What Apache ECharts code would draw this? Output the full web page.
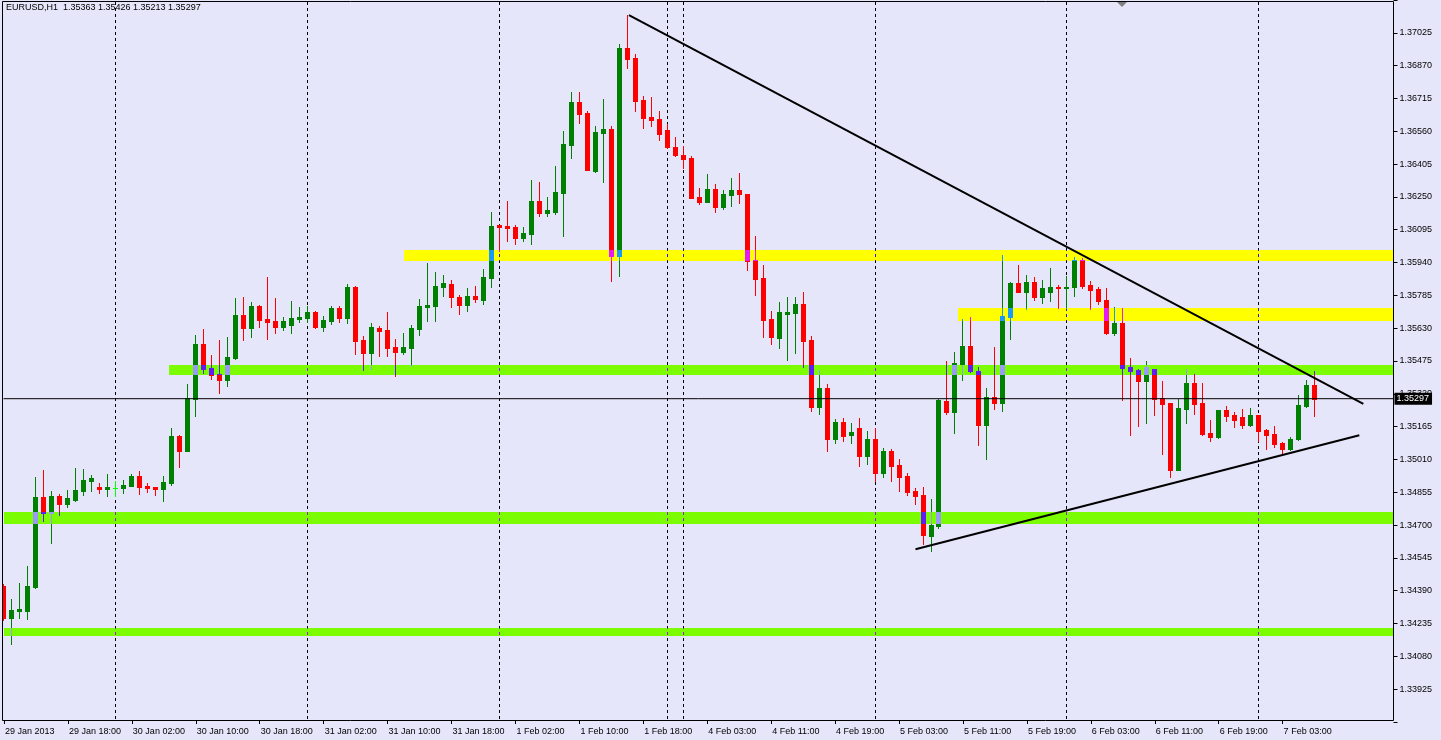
<!DOCTYPE html>
<html><head><meta charset="utf-8">
<script src="https://cdn.jsdelivr.net/npm/echarts@6/dist/echarts.min.js"></script>
<style>html,body{margin:0;padding:0;background:#E6E6FA;}#c{width:1441px;height:740px;}</style>
</head><body><div id="c"></div>
<script>
// EURUSD H1 candles (MT4 order O/H/L/C), bar 0 = 29 Jan 2013 10:00
const opens = [1.34412,1.34262,1.34293,1.34293,1.34408,1.34832,1.34758,1.34837,1.34801,1.34818,
1.34862,1.34908,1.34879,1.34870,1.34875,1.34875,1.34884,1.34931,1.34884,1.34879,
1.34870,1.34898,1.35120,1.35050,1.35295,1.35555,1.35442,1.35413,1.35385,1.35489,
1.35692,1.35631,1.35735,1.35673,1.35664,1.35637,1.35645,1.35673,1.35678,1.35706,
1.35636,1.35664,1.35725,1.35678,1.35825,1.35574,1.35513,1.35631,1.35621,1.35541,
1.35517,1.35536,1.35626,1.35730,1.35735,1.35825,1.35839,1.35777,1.35740,1.35782,
1.35763,1.35867,1.36118,1.36113,1.36108,1.36056,1.36075,1.36231,1.36174,1.36179,
1.36269,1.36496,1.36699,1.36647,1.36373,1.36552,1.36571,1.35971,1.36954,1.36907,
1.36708,1.36628,1.36619,1.36567,1.36486,1.36448,1.36434,1.36250,1.36226,1.36288,
1.36203,1.36259,1.36283,1.36264,1.35952,1.35867,1.35673,1.35584,1.35697,1.35702,
1.35744,1.35574,1.35258,1.35347,1.35106,1.35187,1.35125,1.35158,1.35026,1.35106,
1.34946,1.35050,1.34983,1.34931,1.34861,1.34842,1.34648,1.34695,1.35286,1.35234,
1.35461,1.35546,1.35428,1.35172,1.35305,1.35276,1.35683,1.35844,1.35801,1.35848,
1.35777,1.35801,1.35825,1.35820,1.35825,1.35952,1.35834,1.35815,1.35763,1.35607,
1.35655,1.35447,1.35432,1.35380,1.35437,1.35300,1.35276,1.34960,1.35248,1.35371,
1.35276,1.35135,1.35116,1.35243,1.35220,1.35210,1.35172,1.35220,1.35149,1.35130,
1.35087,1.35059,1.35106,1.35262,1.35363];
const highs = [1.34421,1.34350,1.34427,1.34506,1.34927,1.34960,1.34861,1.34846,1.34865,1.34969,
1.34965,1.34936,1.34898,1.34941,1.34908,1.34913,1.34941,1.34955,1.34898,1.34879,
1.34931,1.35158,1.35125,1.35366,1.35598,1.35626,1.35503,1.35574,1.35588,1.35773,
1.35777,1.35754,1.35740,1.35872,1.35773,1.35683,1.35758,1.35730,1.35735,1.35711,
1.35688,1.35735,1.35735,1.35839,1.35829,1.35593,1.35655,1.35640,1.35706,1.35579,
1.35607,1.35645,1.35768,1.35938,1.35896,1.35881,1.35858,1.35787,1.35820,1.35829,
1.35910,1.36179,1.36118,1.36231,1.36118,1.36108,1.36330,1.36321,1.36250,1.36396,
1.36562,1.36746,1.36746,1.36656,1.36586,1.36713,1.36586,1.36973,1.37110,1.36926,
1.36727,1.36723,1.36656,1.36595,1.36534,1.36491,1.36444,1.36293,1.36359,1.36311,
1.36283,1.36340,1.36363,1.36266,1.36066,1.35929,1.35711,1.35754,1.35777,1.35777,
1.35801,1.35593,1.35432,1.35366,1.35201,1.35206,1.35182,1.35206,1.35144,1.35158,
1.35064,1.35059,1.35012,1.34946,1.34875,1.34879,1.34823,1.35295,1.35475,1.35517,
1.35673,1.35683,1.35447,1.35347,1.35541,1.35976,1.35846,1.35929,1.35881,1.35872,
1.35858,1.35914,1.35834,1.35877,1.35966,1.35962,1.35853,1.35825,1.35820,1.35730,
1.35725,1.35489,1.35437,1.35475,1.35437,1.35380,1.35278,1.35295,1.35437,1.35413,
1.35371,1.35196,1.35245,1.35262,1.35234,1.35248,1.35253,1.35222,1.35154,1.35168,
1.35092,1.35116,1.35314,1.35385,1.35426];
const lows = [1.34251,1.34137,1.34262,1.34256,1.34405,1.34720,1.34616,1.34747,1.34786,1.34813,
1.34842,1.34861,1.34851,1.34837,1.34837,1.34851,1.34884,1.34846,1.34856,1.34842,
1.34813,1.34889,1.34974,1.35048,1.35215,1.35418,1.35390,1.35324,1.35357,1.35484,
1.35574,1.35588,1.35636,1.35579,1.35607,1.35621,1.35607,1.35659,1.35659,1.35631,
1.35617,1.35650,1.35659,1.35655,1.35508,1.35432,1.35437,1.35499,1.35499,1.35404,
1.35508,1.35451,1.35598,1.35664,1.35664,1.35782,1.35730,1.35697,1.35711,1.35754,
1.35744,1.35825,1.35995,1.36042,1.36028,1.36042,1.36028,1.36160,1.36160,1.36170,
1.36066,1.36434,1.36600,1.36375,1.36368,1.36321,1.35853,1.35877,1.36860,1.36656,
1.36576,1.36586,1.36519,1.36482,1.36444,1.36387,1.36243,1.36217,1.36224,1.36179,
1.36193,1.36207,1.36222,1.35905,1.35787,1.35588,1.35555,1.35536,1.35480,1.35513,
1.35447,1.35239,1.35224,1.35050,1.35087,1.35097,1.35087,1.34979,1.34988,1.34908,
1.34927,1.34908,1.34861,1.34842,1.34801,1.34610,1.34577,1.34686,1.35224,1.35135,
1.35385,1.35423,1.35078,1.35012,1.35248,1.35239,1.35579,1.35799,1.35721,1.35763,
1.35749,1.35758,1.35725,1.35725,1.35782,1.35820,1.35721,1.35744,1.35603,1.35598,
1.35291,1.35125,1.35168,1.35182,1.35220,1.35035,1.34927,1.34958,1.35182,1.35224,
1.35125,1.35097,1.35111,1.35191,1.35163,1.35158,1.35168,1.35097,1.35059,1.35068,
1.35031,1.35057,1.35102,1.35257,1.35213];
const closes = [1.34262,1.34298,1.34303,1.34412,1.34832,1.34758,1.34837,1.34801,1.34827,1.34865,
1.34913,1.34922,1.34870,1.34879,1.34875,1.34889,1.34931,1.34879,1.34875,1.34870,
1.34903,1.35120,1.35050,1.35300,1.35555,1.35437,1.35409,1.35385,1.35494,1.35692,
1.35631,1.35735,1.35669,1.35659,1.35636,1.35664,1.35678,1.35683,1.35706,1.35636,
1.35669,1.35725,1.35678,1.35825,1.35569,1.35513,1.35636,1.35617,1.35536,1.35517,
1.35541,1.35631,1.35735,1.35740,1.35829,1.35844,1.35777,1.35740,1.35782,1.35768,
1.35872,1.36113,1.36108,1.36103,1.36056,1.36080,1.36231,1.36174,1.36189,1.36274,
1.36500,1.36699,1.36642,1.36378,1.36557,1.36571,1.35971,1.36954,1.36902,1.36704,
1.36623,1.36614,1.36548,1.36486,1.36448,1.36430,1.36245,1.36226,1.36288,1.36203,
1.36264,1.36283,1.36264,1.35948,1.35862,1.35669,1.35588,1.35706,1.35706,1.35744,
1.35569,1.35258,1.35347,1.35106,1.35187,1.35120,1.35139,1.35026,1.35106,1.34946,
1.35050,1.34979,1.34927,1.34856,1.34837,1.34653,1.34700,1.35291,1.35234,1.35465,
1.35546,1.35428,1.35172,1.35305,1.35276,1.35688,1.35844,1.35801,1.35848,1.35777,
1.35820,1.35825,1.35820,1.35825,1.35952,1.35829,1.35810,1.35758,1.35607,1.35655,
1.35442,1.35428,1.35380,1.35447,1.35295,1.35272,1.34960,1.35253,1.35371,1.35272,
1.35130,1.35116,1.35243,1.35215,1.35196,1.35172,1.35220,1.35144,1.35125,1.35083,
1.35059,1.35106,1.35267,1.35363,1.35297];

const tickLabels = ['29 Jan 2013','29 Jan 18:00','30 Jan 02:00','30 Jan 10:00','30 Jan 18:00',
'31 Jan 02:00','31 Jan 10:00','31 Jan 18:00','1 Feb 02:00','1 Feb 10:00','1 Feb 18:00',
'4 Feb 03:00','4 Feb 11:00','4 Feb 19:00','5 Feb 03:00','5 Feb 11:00','5 Feb 19:00',
'6 Feb 03:00','6 Feb 11:00','6 Feb 19:00','7 Feb 03:00'];
const barsPerTick = 8;
const slotCount = 175;               // bars + empty shift area on the right
const daySeparators = [14, 38, 62, 83, 85, 109, 133, 157];   // bar indexes of period separators
// zones: [fromBar, toBar, lowPrice, highPrice]
const yellowZones = [[50.06, 173.875, 1.35945, 1.35999], [119.4, 173.875, 1.35665, 1.35725]];
const greenZones = [[20.7, 173.875, 1.35409, 1.35456], [-0.06, 173.875, 1.34705, 1.34761], [-0.06, 173.875, 1.34175, 1.34213]];
// trend lines: [[bar, price], [bar, price]]
const trendDown = [[78.2, 1.37109], [170.1, 1.35272]];
const trendUp = [[114.06, 1.34586], [169.6, 1.35124]];
const lastPrice = 1.35297;
const headerText = 'EURUSD,H1  1.35363 1.35426 1.35213 1.35297';
const priceMin = 1.33770, priceMax = 1.37180, priceStep = 0.00155;

// ---- styling ----
const FONT = '"Liberation Sans", Arial, sans-serif';
const BG = '#E6E6FA', YELLOW = '#FFFF00', GREEN_ZONE = '#7CFC00';
const BULL = '#008000', BEAR = '#FF0000', DOJI = '#00FF00';
const FRAME = {left: 3, top: 2, bottom: 720};

const categories = Array.from({length: slotCount}, (_, i) => String(i));
const candleRows = opens.map((o, i) => [i, o, closes[i], lows[i], highs[i]]);
const isTick = (idx) => idx % barsPerTick === 0 && idx / barsPerTick < tickLabels.length;
const zoneList = yellowZones.map(z => ({z, color: YELLOW})).concat(greenZones.map(z => ({z, color: GREEN_ZONE})));

function hexToRgb(h) { return [parseInt(h.slice(1, 3), 16), parseInt(h.slice(3, 5), 16), parseInt(h.slice(5, 7), 16)]; }
// MT4 background objects are combined with the chart raster (xor)
function mix(zoneColor, color) {
  const a = hexToRgb(BG), b = hexToRgb(zoneColor), c = hexToRgb(color);
  return 'rgb(' + [0, 1, 2].map(k => a[k] ^ b[k] ^ c[k]).join(',') + ')';
}
function zonePixels(api) {
  return zoneList.map(({z, color}) => {
    const a = api.coord([z[0], z[3]]), b = api.coord([z[1], z[2]]);
    return {x0: a[0], x1: b[0], y0: Math.round(a[1]), y1: Math.round(b[1]), color};
  });
}
// split a vertical pixel span into pieces inside/outside zones
function pieces(x, y0, y1, color, zones) {
  const out = [{y0, y1, color}];
  zones.forEach(zn => {
    if (x < zn.x0 || x > zn.x1) return;
    const s = Math.max(y0, zn.y0), e = Math.min(y1, zn.y1);
    if (e > s) out.push({y0: s, y1: e, color: mix(zn.color, color)});
  });
  return out;
}

function zoneSeries(data, color) {
  return {
    type: 'custom', xAxisIndex: 1, yAxisIndex: 0, z: 1, silent: true, clip: false,
    data: data,
    renderItem: function (params, api) {
      const a = api.coord([api.value(0), api.value(3)]);
      const b = api.coord([api.value(1), api.value(2)]);
      const x0 = Math.max(Math.round(a[0]), FRAME.left), y0 = Math.round(a[1]);
      return {type: 'rect', shape: {x: x0, y: y0, width: Math.round(b[0]) - x0, height: Math.round(b[1]) - y0}, style: {fill: color}};
    }
  };
}

const chart = echarts.init(document.getElementById('c'), null, {renderer: 'canvas'});
chart.setOption({
  animation: false,
  backgroundColor: BG,
  grid: {left: -1.5, top: 0, width: 1400, height: 722, show: false},
  xAxis: [{
    type: 'category', data: categories, boundaryGap: true, offset: -2,
    axisLine: {show: false, onZero: false},
    axisTick: {show: true, interval: (i) => isTick(i), alignWithLabel: true, length: 4, lineStyle: {color: '#000'}},
    axisLabel: {interval: (i) => isTick(i), formatter: (v) => tickLabels[Number(v) / barsPerTick],
      align: 'left', padding: [0, 0, 0, 1], margin: 7, color: '#000', fontSize: 9, fontFamily: FONT},
    splitLine: {show: false}
  }, {
    type: 'value', min: -0.5, max: slotCount - 0.5, show: false, axisLine: {onZero: false}
  }],
  yAxis: [{
    type: 'value', position: 'right', offset: -5, min: priceMin, max: priceMax, interval: priceStep,
    axisLine: {show: false, onZero: false},
    axisTick: {show: true, length: 4, lineStyle: {color: '#000'}},
    axisLabel: {margin: 6, color: '#000', fontSize: 9, fontFamily: FONT,
      formatter: (v) => (v < priceMin + 0.0001 || v > priceMax - 0.0001) ? '' : v.toFixed(5)},
    splitLine: {show: false}
  }],
  series: [
    zoneSeries(yellowZones, YELLOW),
    zoneSeries(greenZones, GREEN_ZONE),
    {
      type: 'custom', xAxisIndex: 1, yAxisIndex: 0, z: 2, silent: true, clip: false,
      data: daySeparators,
      renderItem: function (params, api) {
        const p = api.coord([api.value(0), priceMin]);
        const x = Math.round(p[0] - 0.5) + 0.5;
        const parts = pieces(x, FRAME.top, FRAME.bottom, '#000000', zonePixels(api));
        return {type: 'group', children: parts.map(pc => ({
          type: 'line', shape: {x1: x, y1: pc.y0, x2: x, y2: pc.y1},
          style: {stroke: pc.color, lineWidth: 1, lineDash: [3, 3], lineDashOffset: pc.y0 - FRAME.top}
        }))};
      }
    },
    {
      type: 'custom', xAxisIndex: 1, yAxisIndex: 0, z: 3, silent: true, clip: false,
      data: candleRows,
      encode: {x: 0, y: [1, 2, 3, 4]},
      renderItem: function (params, api) {
        const i = api.value(0), o = api.value(1), c = api.value(2), l = api.value(3), h = api.value(4);
        const cx = Math.round(api.coord([i, o])[0] - 0.5) + 0.5;
        const color = c > o ? BULL : (c < o ? BEAR : DOJI);
        const yTop = Math.round(api.coord([i, Math.max(o, c)])[1]);
        const yBot = Math.round(api.coord([i, Math.min(o, c)])[1]);
        const yHi = Math.round(api.coord([i, h])[1]);
        const yLo = Math.round(api.coord([i, l])[1]);
        const zones = zonePixels(api);
        const children = [];
        const addSpan = (x0, w, y0, y1) => {
          const left = Math.max(x0, FRAME.left), width = x0 + w - left;
          if (width <= 0) return;
          pieces(cx, y0, y1, color, zones).forEach(pc => children.push({
            type: 'rect', shape: {x: left, y: pc.y0, width: width, height: pc.y1 - pc.y0},
            style: {fill: pc.color}
          }));
        };
        addSpan(cx - 0.5, 1, yHi, yLo + 1);
        addSpan(cx - 2.5, 5, yTop, yBot + 1);
        return {type: 'group', children};
      }
    },
    {
      type: 'line', xAxisIndex: 1, yAxisIndex: 0, z: 4, silent: true, symbol: 'none',
      data: [[-0.06, lastPrice], [173.875, lastPrice]],
      lineStyle: {color: '#000', width: 1},
      endLabel: {show: true, formatter: () => lastPrice.toFixed(5), color: '#fff', backgroundColor: '#000',
        padding: [2, 3, 1, 2], distance: 1, fontSize: 9, fontFamily: FONT}
    },
    {
      type: 'line', xAxisIndex: 1, yAxisIndex: 0, z: 5, silent: true, symbol: 'none',
      data: trendDown, lineStyle: {color: '#000', width: 2}
    },
    {
      type: 'line', xAxisIndex: 1, yAxisIndex: 0, z: 5, silent: true, symbol: 'none',
      data: trendUp, lineStyle: {color: '#000', width: 2}
    }
  ],
  graphic: [
    {type: 'rect', z: 100, silent: true, shape: {x: 2.5, y: 1.5, width: 1391, height: 719},
      style: {fill: 'none', stroke: '#000', lineWidth: 1}},
    {type: 'text', z: 100, silent: true, x: 6, y: 3,
      style: {text: headerText, fill: '#000', font: '9px ' + FONT, textVerticalAlign: 'top'}},
    {type: 'polygon', z: 100, silent: true, shape: {points: [[1117, 2], [1127, 2], [1122, 7]]},
      style: {fill: '#808080'}}
  ]
});
</script></body></html>
